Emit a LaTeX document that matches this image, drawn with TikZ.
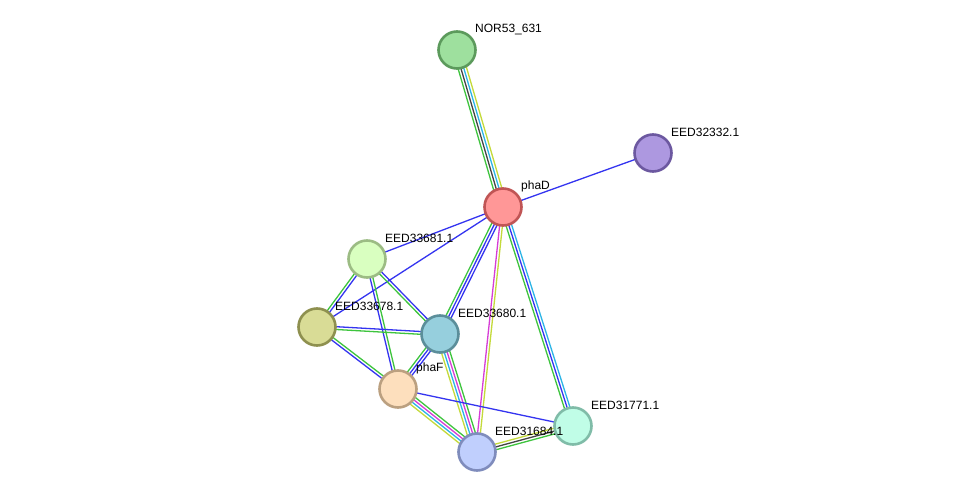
\documentclass[tikz,border=0pt]{standalone}
\usepackage{fontspec}
\setmainfont{Liberation Sans}
\usetikzlibrary{calc}
\pgfdeclarelayer{background}
\pgfsetlayers{background,main}
\definecolor{sgreen}{HTML}{3EC43E}
\definecolor{sblue}{HTML}{3434F0}
\definecolor{scyan}{HTML}{2CB4E6}
\definecolor{syellow}{HTML}{C4DA3A}
\definecolor{smag}{HTML}{D63CD6}
\definecolor{sblack}{HTML}{444444}
\newcommand{\medge}[4]{%
  \foreach \c [count=\i] in {#4} {%
    \pgfmathsetmacro\off{(\i-(#3+1)/2)*2.8}%
    \draw[edgeline, \c] ($(#1.center)!\off pt!90:(#2.center)$) -- ($(#2.center)!\off pt!-90:(#1.center)$);
  }}
\tikzset{
  prot/.style={circle, minimum size=37pt, inner sep=0pt, line width=2.6pt},
  lbl/.style={anchor=west, font=\fontsize{12}{14}\selectfont, inner sep=0pt},
  edgeline/.style={line width=1.3pt},
}
\begin{document}
\begin{tikzpicture}[x=1pt,y=-1pt]
\useasboundingbox (0,0) rectangle (975,497);
\node[prot, fill={rgb,255:red,158;green,224;blue,158}, draw={rgb,255:red,92;green,154;blue,92}] (nor) at (457,50) {};
\node[prot, fill={rgb,255:red,173;green,152;blue,224}, draw={rgb,255:red,108;green,88;blue,160}] (e32332) at (653,153) {};
\node[prot, fill={rgb,255:red,255;green,151;blue,151}, draw={rgb,255:red,192;green,85;blue,85}] (phad) at (503,207) {};
\node[prot, fill={rgb,255:red,217;green,255;blue,192}, draw={rgb,255:red,156;green,188;blue,132}] (e33681) at (367,259) {};
\node[prot, fill={rgb,255:red,217;green,220;blue,150}, draw={rgb,255:red,142;green,144;blue,79}] (e33678) at (317,327) {};
\node[prot, fill={rgb,255:red,150;green,207;blue,221}, draw={rgb,255:red,91;green,142;blue,154}] (e33680) at (440,334) {};
\node[prot, fill={rgb,255:red,253;green,223;blue,189}, draw={rgb,255:red,187;green,160;blue,128}] (phaf) at (398,389) {};
\node[prot, fill={rgb,255:red,192;green,253;blue,231}, draw={rgb,255:red,128;green,188;blue,168}] (e31771) at (573,426) {};
\node[prot, fill={rgb,255:red,192;green,207;blue,253}, draw={rgb,255:red,127;green,140;blue,188}] (e31684) at (477,452) {};
\begin{pgfonlayer}{background}
\fill[white] (0,0) rectangle (975,497);
\medge{nor}{phad}{4}{sgreen,sblack,scyan,syellow}
\medge{phad}{e32332}{1}{sblue}
\medge{phad}{e33681}{1}{sblue}
\medge{phad}{e33678}{1}{sblue}
\medge{phad}{e33680}{3}{sgreen,sblue,sblue}
\medge{phad}{e31684}{2}{smag,syellow}
\medge{phad}{e31771}{3}{sgreen,sblue,scyan}
\medge{e33681}{e33678}{2}{sgreen,sblue}
\medge{e33681}{e33680}{2}{sgreen,sblue}
\medge{e33681}{phaf}{2}{sblue,sgreen}
\medge{e33678}{e33680}{2}{sgreen,sblue}
\medge{e33678}{phaf}{2}{sblue,sgreen}
\medge{e33680}{phaf}{3}{sgreen,sblue,sblue}
\medge{e33680}{e31684}{4}{syellow,scyan,smag,sgreen}
\medge{phaf}{e31684}{4}{syellow,scyan,smag,sgreen}
\medge{phaf}{e31771}{1}{sblue}
\medge{e31684}{e31771}{3}{sgreen,sblack,syellow}
\end{pgfonlayer}
\node[lbl] (lnor) at ($(nor)+(18,-20.5)$) {NOR53\_631};
\node[lbl] (l32332) at ($(e32332)+(18,-20.5)$) {EED32332.1};
\node[lbl] (lphad) at ($(phad)+(18,-20.5)$) {phaD};
\node[lbl] (l33681) at ($(e33681)+(18,-20.5)$) {EED33681.1};
\node[lbl] (l33678) at ($(e33678)+(18,-20.5)$) {EED33678.1};
\node[lbl] (l33680) at ($(e33680)+(18,-20.5)$) {EED33680.1};
\node[lbl] (lphaf) at ($(phaf)+(18,-20.5)$) {phaF};
\node[lbl] (l31771) at ($(e31771)+(18,-20.5)$) {EED31771.1};
\node[lbl] (l31684) at ($(e31684)+(18,-20.5)$) {EED31684.1};
\end{tikzpicture}
\end{document}
